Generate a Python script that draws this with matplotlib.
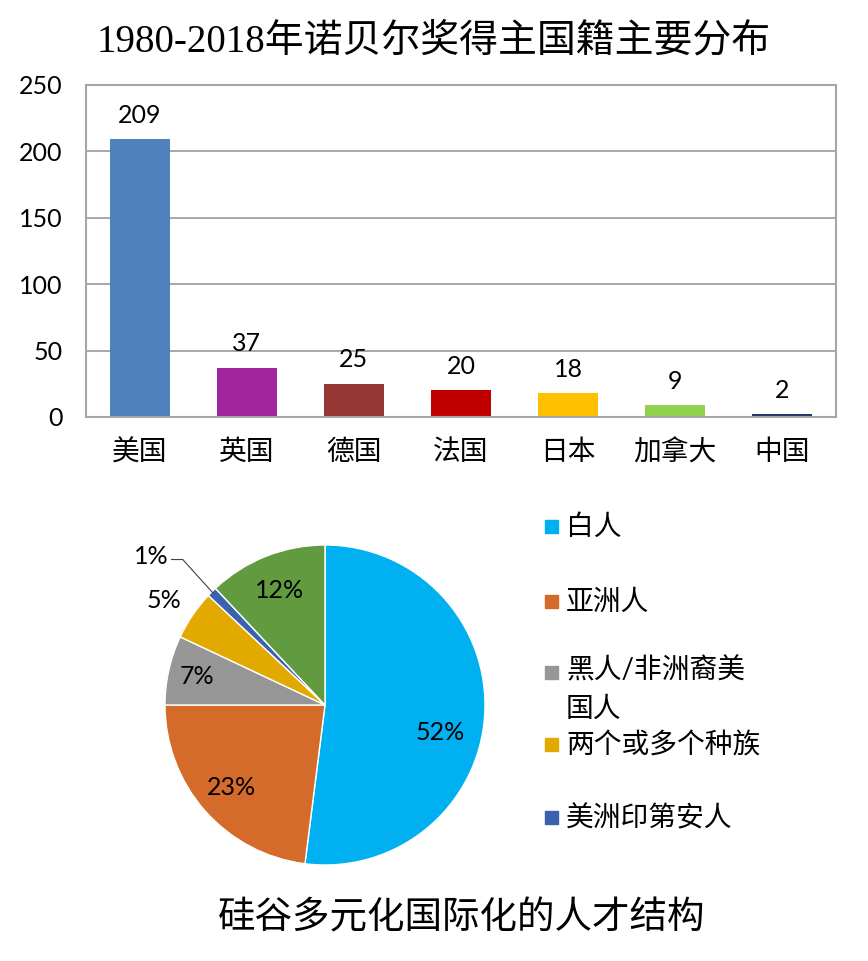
import numpy as np
import matplotlib
matplotlib.use("Agg")
import matplotlib.pyplot as plt
from matplotlib.patches import Rectangle

plt.rcParams['font.family'] = ['Lato', 'Noto Sans CJK SC', 'DejaVu Sans']

# bar chart data
countries = ['美国', '英国', '德国', '法国', '日本', '加拿大', '中国']
laureates = [209, 37, 25, 20, 18, 9, 2]
bar_colors = ['#4F81BD', '#A0259E', '#953735', '#C00000', '#FFC000', '#92D050', '#1F3864']
y_ticks = [0, 50, 100, 150, 200, 250]

# pie chart data
groups = ['白人', '亚洲人', '黑人/非洲裔美\n国人', '两个或多个种族', '美洲印第安人', '其他']
shares = [52, 23, 7, 5, 1, 12]
pie_colors = ['#00B0F0', '#D46B2A', '#969696', '#E2AA00', '#3A62AE', '#619A3F']
label_dist = [0.74, 0.78, 0.82, 1.22, 1.3, 0.77]

title = '1980-2018年诺贝尔奖得主国籍主要分布'
caption = '硅谷多元化国际化的人才结构'

W, H = 868, 961
fig = plt.figure(figsize=(W / 100, H / 100), dpi=100)

# ---- bar chart ----
ax = fig.add_axes([86 / W, 1 - 417 / H, (836 - 86) / W, (417 - 85) / H])
x = np.arange(len(countries))
bars = ax.bar(x, laureates, width=0.56, color=bar_colors)
ax.bar_label(bars, labels=[str(v) for v in laureates], padding=9, fontsize=18)
ax.set_xlim(-0.5, len(countries) - 0.5)
ax.set_ylim(0, 250)
ax.set_yticks(y_ticks)
ax.set_yticklabels([str(t) for t in y_ticks], fontsize=18)
ax.set_xticks(x)
ax.set_xticklabels(countries, fontsize=20)
ax.tick_params(length=0)
ax.tick_params(axis='y', pad=17)
ax.tick_params(axis='x', pad=16)
ax.yaxis.grid(True, color='#999999', linewidth=1.2)
ax.set_axisbelow(True)
for s in ax.spines.values():
    s.set_color('#A6A6A6')
    s.set_linewidth(1.5)

fig.text(0.5, 1 - 42 / H, title, ha='center', va='center', fontsize=28,
         family=['Liberation Serif', 'Noto Sans CJK SC'])

# ---- pie chart ----
r_px = 160
pax = fig.add_axes([(325 - r_px) / W, 1 - (705 + r_px) / H, 2 * r_px / W, 2 * r_px / H])
wedges, _ = pax.pie(shares, colors=pie_colors, startangle=90, counterclock=False,
                    wedgeprops=dict(edgecolor='white', linewidth=1))
pax.set_xlim(-1, 1)
pax.set_ylim(-1, 1)
pax.set_aspect('equal')

for w, v, d in zip(wedges, shares, label_dist):
    ang = np.deg2rad((w.theta1 + w.theta2) / 2)
    tx, ty = d * np.cos(ang), d * np.sin(ang)
    if v == 1:
        # small slice: label outside with leader line
        ex, ey = 0.99 * np.cos(ang), 0.99 * np.sin(ang)
        pax.plot([tx - 0.04, tx + 0.03, ex], [ty - 0.01, ty - 0.01, ey],
                 color='#404040', linewidth=0.8, clip_on=False)
        pax.text(tx - 0.06, ty + 0.01, f'{v}%', ha='right', va='center', fontsize=18)
    elif v == 52:
        pax.text(0.72, -0.17, f'{v}%', ha='center', va='center', fontsize=18)
    else:
        pax.text(tx, ty - 0.03 if v == 5 else ty, f'{v}%', ha='center', va='center', fontsize=18)

# legend (first five groups)
leg_y = [527, 602, 673, 745, 818]
for name, c, yy in zip(groups[:5], pie_colors[:5], leg_y):
    fig.add_artist(Rectangle((545 / W, 1 - (yy + 6) / H), 13 / W, 13 / H,
                             transform=fig.transFigure, color=c))
    if '\n' in name:
        fig.text(566 / W, 1 - (yy - 16) / H, name, ha='left', va='top',
                 fontsize=20, linespacing=1.6)
    else:
        fig.text(566 / W, 1 - yy / H, name, ha='left', va='center', fontsize=20)

fig.text(462 / W, 1 - 918 / H, caption, ha='center', va='center', fontsize=27,
         family=['Noto Sans CJK SC'])

fig.savefig('out.png', dpi=100, facecolor='white')
